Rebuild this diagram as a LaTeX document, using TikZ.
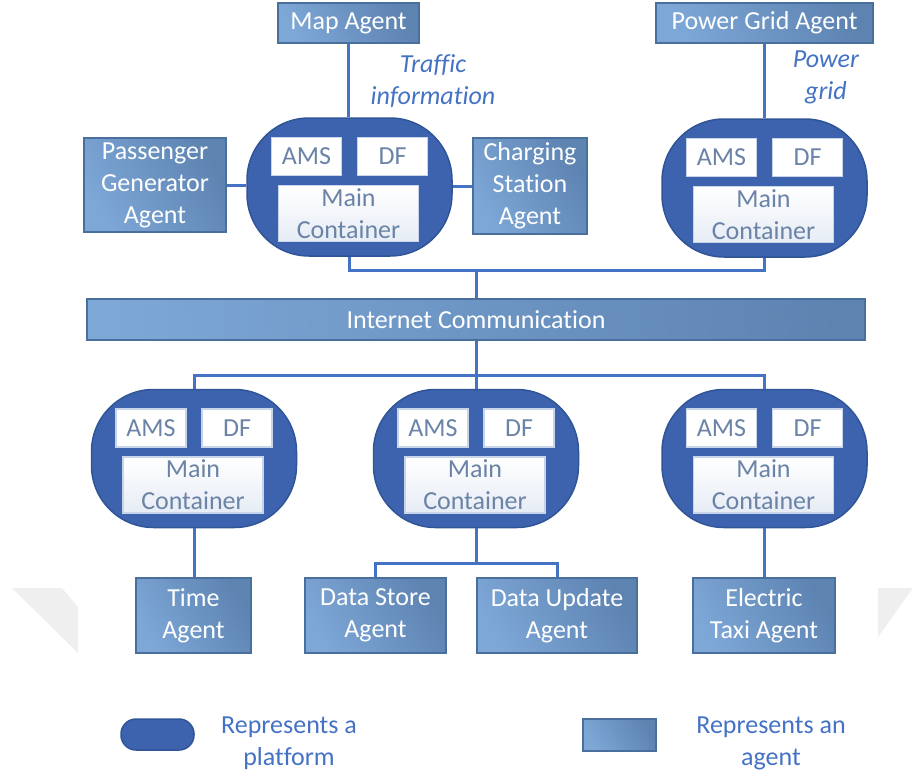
\documentclass[tikz,border=0pt]{standalone}
\usepackage{fontspec}
\setmainfont{Carlito}[Ligatures=NoCommon]
\definecolor{platfill}{HTML}{3E63AE}
\definecolor{platedge}{HTML}{2F5597}
\definecolor{agentlight}{HTML}{7DA7D7}
\definecolor{agentdark}{HTML}{5D83B1}
\definecolor{agentedge}{HTML}{4A6F9C}
\definecolor{wire}{HTML}{4472C4}
\definecolor{innertext}{HTML}{6A83A6}
\definecolor{inneredge}{HTML}{C8D5E9}
\definecolor{mainshade}{HTML}{E6ECF5}
\definecolor{labelblue}{HTML}{4472C4}
\definecolor{faintgray}{HTML}{EFEFEF}
\tikzset{
  basefont/.style={font=\fontsize{26}{32}\selectfont},
  agent/.style={basefont, draw=agentedge, line width=1.5pt,
    left color=agentlight, right color=agentdark, shading angle=120,
    text=white, align=center, inner sep=0pt},
  platform/.style={draw=platedge, line width=1.5pt, fill=platfill,
    rounded corners=62pt, inner sep=0pt, minimum width=205pt, minimum height=138pt},
  innerbox/.style={basefont, draw=inneredge, line width=1.5pt, fill=white,
    text=innertext, align=center, inner sep=0pt},
  mainbox/.style={innerbox, top color=white, bottom color=mainshade},
  wireline/.style={draw=wire, line width=3pt},
  note/.style={basefont, text=labelblue, align=center, inner sep=0pt},
}
% platform with its AMS, DF and Main Container boxes
\newcommand\drawplatform[3]{%
  \node[platform] (#1) at (#2,#3) {};
  \node[innerbox, minimum width=70pt, minimum height=38pt] (#1-ams) at (#2-43,#3-30.5) {AMS};
  \node[innerbox, minimum width=70pt, minimum height=38pt] (#1-df) at (#2+43,#3-30.5) {DF};
  \node[mainbox, minimum width=140pt, minimum height=56pt] (#1-main) at (#2-1,#3+26.5) {Main\\Container};
}
\begin{document}
\begin{tikzpicture}[x=1pt, y=-1pt]
\useasboundingbox (0,0) rectangle (915,776);

% faint marks near the lower corners
\fill[faintgray] (12,588) -- (62,588) -- (78,607) -- (78,653) -- cycle;
\fill[faintgray] (878,588) -- (913,588) -- (878,637) -- cycle;

% agents
\node[agent, minimum width=141pt, minimum height=40pt] (map) at (348.5,23) {Map Agent};
\node[agent, minimum width=217pt, minimum height=40pt] (grid) at (764.5,23) {Power Grid Agent};
\node[agent, minimum width=142pt, minimum height=94pt] (pass) at (155,185) {Passenger\\Generator\\Agent};
\node[agent, minimum width=114pt, minimum height=96pt] (charge) at (530,186) {Charging\\Station\\Agent};
\node[agent, minimum width=778pt, minimum height=41pt,
      left color=agentlight, right color=agentdark, shading angle=95] (net) at (476,319.5) {Internet Communication};
\node[agent, minimum width=115pt, minimum height=75pt] (time) at (193.5,615.5) {Time\\Agent};
\node[agent, minimum width=141pt, minimum height=75pt] (store) at (375.5,615.5) {Data Store\\Agent};
\node[agent, minimum width=160pt, minimum height=75pt] (update) at (557,615.5) {Data Update\\Agent};
\node[agent, minimum width=142pt, minimum height=75pt] (taxi) at (764,615.5) {Electric\\Taxi Agent};

% platforms
\drawplatform{p1}{349.5}{187}
\drawplatform{p2}{764.5}{188}
\drawplatform{pl}{194}{458.5}
\drawplatform{pm}{476}{458.5}
\drawplatform{pr}{764.5}{458.5}

% link labels
\node[note, font=\fontsize{26}{32}\selectfont\itshape] (traffic) at (433,81) {Traffic\\information};
\node[note, font=\fontsize{26}{32}\selectfont\itshape] (power) at (826,77) {Power\\grid};

% junction points of the wiring
\coordinate (bustop) at (476,270);
\coordinate (busbot) at (476,375);
\coordinate (busdata) at (476,563);

% connectors
\draw[wireline] (map.south) -- (map.south |- p1.north);
\draw[wireline] (grid.south) -- (grid.south |- p2.north);
\draw[wireline] (pass.east) -- (pass.east -| p1.west);
\draw[wireline] (charge.west) -- (charge.west -| p1.east);
\draw[wireline] (p1.south) |- (bustop) -| (p2.south);
\draw[wireline] (bustop) -- (bustop |- net.north);
\draw[wireline] (net.south) -- (busbot |- pm.north);
\draw[wireline] (pl.north) |- (busbot) -| (pr.north);
\draw[wireline] (pl.south) -- (pl.south |- time.north);
\draw[wireline] (pr.south) -- (pr.south |- taxi.north);
\draw[wireline] (pm.south) -- (busdata);
\draw[wireline] (store.north) |- (busdata) -| (update.north);

% legend
\node[platform, rounded corners=15pt, minimum width=73pt, minimum height=31pt] (legplat) at (157.5,734.5) {};
\node[note] (legplattext) at (289,743) {Represents a\\platform};
\node[agent, minimum width=73pt, minimum height=32pt] (legagent) at (619.5,735) {};
\node[note] (legagenttext) at (771,743) {Represents an\\agent};
\end{tikzpicture}
\end{document}
